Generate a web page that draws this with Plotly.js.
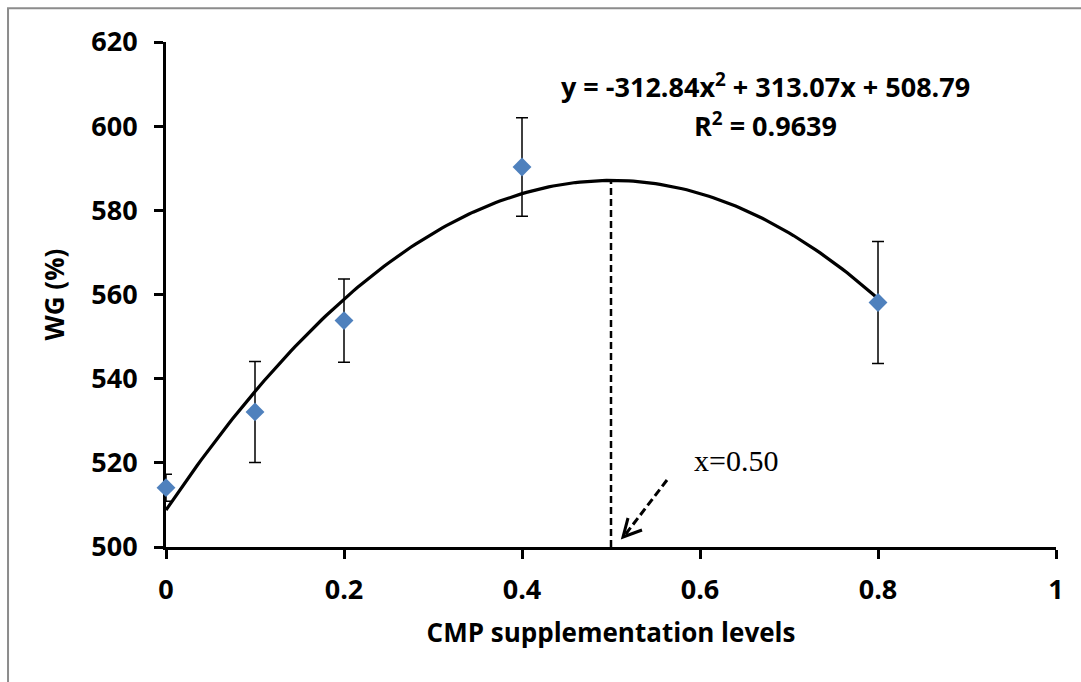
<!DOCTYPE html>
<html>
<head>
<meta charset="utf-8">
<script src="https://cdn.plot.ly/plotly-3.0.1.min.js"></script>
<style>
html,body{margin:0;padding:0;background:#fff;}
#chart{width:1081px;height:682px;}
</style>
</head>
<body>
<div id="chart"></div>
<script>
// CMP supplementation levels
const levels = [0, 0.1, 0.2, 0.4, 0.8];
// WG (%) means and error (±)
const wgMeans = [514.1, 532.1, 553.8, 590.3, 558.1];
const wgErrors = [3.2, 12.0, 9.9, 11.7, 14.5];
// Quadratic trendline coefficients as printed on the chart: a, b, c
const trendCoefs = [-312.84, 313.07, 508.79];
const trendRange = [0, 0.8];
const optimumX = 0.50;
const xTicks = [0, 0.2, 0.4, 0.6, 0.8, 1];
const xTickText = ['0', '0.2', '0.4', '0.6', '0.8', '1'];
const yTicks = [500, 520, 540, 560, 580, 600, 620];

const trendX = [], trendY = [];
const nSteps = 160;
for (let i = 0; i <= nSteps; i++) {
  const x = trendRange[0] + (trendRange[1] - trendRange[0]) * i / nSteps;
  trendX.push(x);
  trendY.push(trendCoefs[0] * x * x + trendCoefs[1] * x + trendCoefs[2]);
}
const optimumY = trendCoefs[0] * optimumX * optimumX + trendCoefs[1] * optimumX + trendCoefs[2];

const font = 'Open Sans, Liberation Sans, Arial, sans-serif';

const traces = [
  {
    x: trendX, y: trendY, mode: 'lines', type: 'scatter',
    line: {color: '#000', width: 3.2}, hoverinfo: 'skip', showlegend: false,
    cliponaxis: false
  },
  {
    x: levels, y: wgMeans, mode: 'markers', type: 'scatter',
    marker: {symbol: 'diamond', size: 14.5, color: '#4F81BD', line: {width: 0}},
    error_y: {type: 'data', array: wgErrors, visible: true, color: '#000', thickness: 1.5, width: 6},
    showlegend: false, cliponaxis: false
  }
];

const layout = {
  width: 1081, height: 682,
  margin: {l: 166, r: 25, t: 42, b: 135},
  paper_bgcolor: '#fff', plot_bgcolor: '#fff',
  showlegend: false,
  font: {family: font, color: '#000'},
  xaxis: {
    range: [0, 1], tickvals: xTicks, ticktext: xTickText,
    showgrid: false, zeroline: false, layer: 'below traces',
    showline: true, linecolor: '#000', linewidth: 3,
    ticks: 'outside', ticklen: 9, tickwidth: 3, tickcolor: '#000',
    tickfont: {family: font, size: 27, color: '#000', weight: 'bold'},
    ticklabelstandoff: 8,
    title: {text: '<b>CMP supplementation levels</b>', font: {family: font, size: 26, color: '#000'}, standoff: 18}
  },
  yaxis: {
    range: [500, 620], tickvals: yTicks,
    showgrid: false, zeroline: false, layer: 'below traces',
    showline: true, linecolor: '#000', linewidth: 3,
    ticks: 'outside', ticklen: 9, tickwidth: 3, tickcolor: '#000',
    tickfont: {family: font, size: 27, color: '#000', weight: 'bold'},
    ticklabelstandoff: 11,
    title: {text: '<b>WG (%)</b>', font: {family: font, size: 26, color: '#000'}, standoff: 20}
  },
  shapes: [
    {
      type: 'rect', xref: 'paper', yref: 'paper',
      x0: -0.1775, x1: 1.2, y0: -0.5, y1: 1.067,
      line: {color: '#8c8c8c', width: 2}, fillcolor: 'rgba(0,0,0,0)', layer: 'below'
    },
    {
      type: 'line', xref: 'x', yref: 'y',
      x0: optimumX, x1: optimumX, y0: 500, y1: optimumY,
      line: {color: '#000', width: 2.5, dash: '7px,4px'}
    },
    {
      type: 'path', xref: 'x', yref: 'y',
      xsizemode: 'pixel', ysizemode: 'pixel', xanchor: optimumX, yanchor: 500,
      path: 'M56,67 L14,12',
      line: {color: '#000', width: 3, dash: '8px,4px'}
    },
    {
      type: 'path', xref: 'x', yref: 'y',
      xsizemode: 'pixel', ysizemode: 'pixel', xanchor: optimumX, yanchor: 500,
      path: 'M31,17 L12,10 L17,29',
      line: {color: '#000', width: 3}
    }
  ],
  annotations: [
    {
      xref: 'paper', yref: 'paper', x: (765 - 166) / 890, y: (547 - 86) / 505,
      text: '<b>y = -312.84x<sup>2</sup> + 313.07x + 508.79</b>',
      showarrow: false, xanchor: 'center', yanchor: 'middle',
      font: {family: font, size: 27, color: '#000'}
    },
    {
      xref: 'paper', yref: 'paper', x: (765 - 166) / 890, y: (547 - 124) / 505,
      text: '<b>R<sup>2</sup> = 0.9639</b>',
      showarrow: false, xanchor: 'center', yanchor: 'middle',
      font: {family: font, size: 27, color: '#000'}
    },
    {
      xref: 'paper', yref: 'paper', x: (692 - 166) / 890, y: (547 - 460) / 505,
      text: 'x=0.50',
      showarrow: false, xanchor: 'left', yanchor: 'middle',
      font: {family: 'Liberation Serif, Times New Roman, serif', size: 30, color: '#000'}
    }
  ]
};

Plotly.newPlot('chart', traces, layout, {staticPlot: true, displayModeBar: false});
</script>
</body>
</html>
